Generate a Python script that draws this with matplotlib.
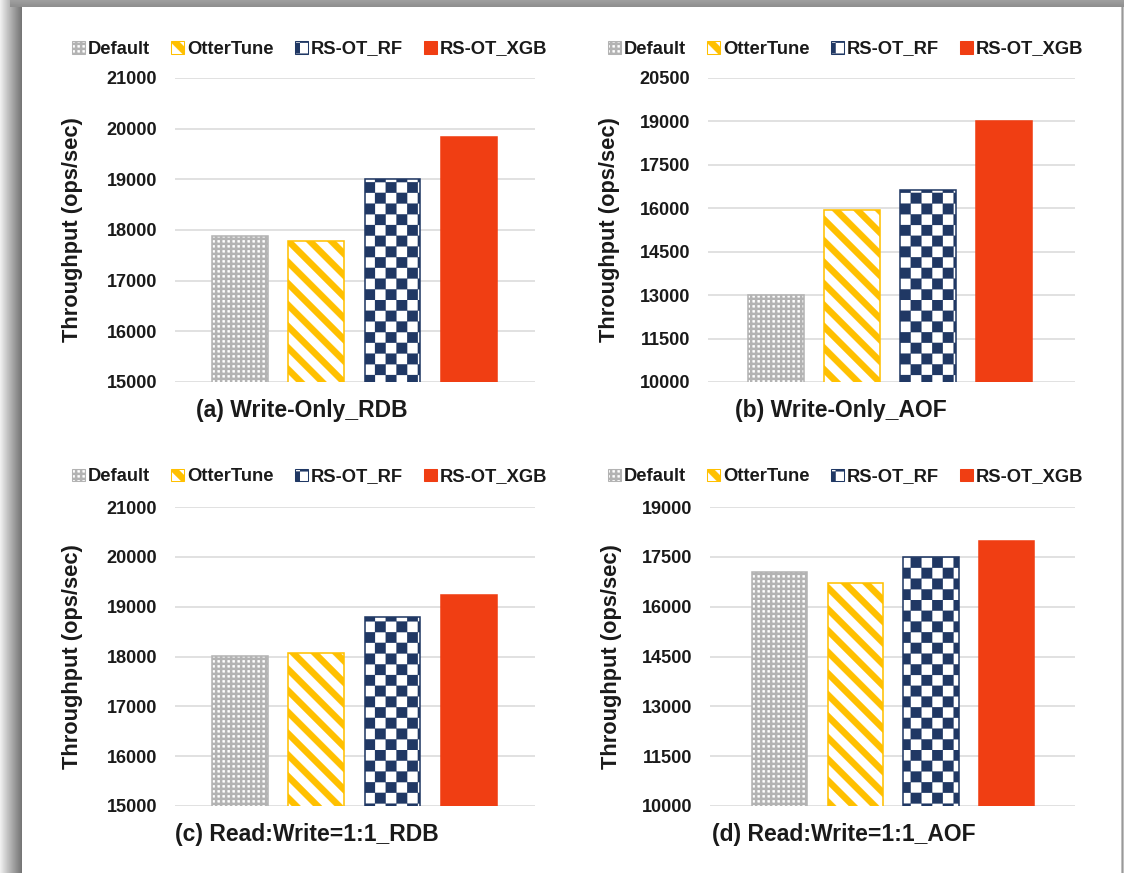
import warnings
warnings.filterwarnings("ignore")
import numpy as np
import matplotlib
matplotlib.use("Agg")
import matplotlib.pyplot as plt
import matplotlib.hatch as mhatch
from matplotlib.path import Path
from matplotlib.patches import Patch

# ---------------- data ----------------
series = ["Default", "OtterTune", "RS-OT_RF", "RS-OT_XGB"]
panel_titles = ["(a) Write-Only_RDB", "(b) Write-Only_AOF",
                "(c) Read:Write=1:1_RDB", "(d) Read:Write=1:1_AOF"]
vals_a = [17880, 17780, 19000, 19840]
vals_b = [13000, 15940, 16630, 19010]
vals_c = [18020, 18075, 18800, 19240]
vals_d = [17030, 16700, 17480, 17970]
yticks_a = [15000, 16000, 17000, 18000, 19000, 20000, 21000]
yticks_b = [10000, 11500, 13000, 14500, 16000, 17500, 19000, 20500]
yticks_c = [15000, 16000, 17000, 18000, 19000, 20000, 21000]
yticks_d = [10000, 11500, 13000, 14500, 16000, 17500, 19000]
ylabel = "Throughput (ops/sec)"

# ---------------- custom hatch textures ----------------
class _FilledPolys(mhatch.HatchPatternBase):
    char = None

    def __init__(self, hatch, density):
        self.polys = self.make_polys() if (hatch and self.char in hatch) else []
        self.num_vertices = sum(len(p) + 1 for p in self.polys)

    def make_polys(self):
        return []

    def set_vertices_and_codes(self, vertices, codes):
        i = 0
        for p in self.polys:
            n = len(p)
            vertices[i:i + n] = p
            vertices[i + n] = p[0]
            codes[i] = Path.MOVETO
            codes[i + 1:i + n] = Path.LINETO
            codes[i + n] = Path.CLOSEPOLY
            i += n + 1


class StripeHatch(_FilledPolys):
    char = "k"

    def make_polys(self):
        n = 7
        w = 0.42 / n
        out = []
        for k in range(-1, 2 * n + 1):
            c = k / n
            out.append([(-1, c + 1), (2, c - 2), (2, c + w - 2), (-1, c + w + 1)])
        return out


class CheckerHatch(_FilledPolys):
    char = "q"

    def make_polys(self):
        m = 14
        out = []
        for i in range(m):
            for j in range(m):
                if (i + j) % 2 == 0:
                    out.append([(i / m, j / m), ((i + 1) / m, j / m),
                                ((i + 1) / m, (j + 1) / m), (i / m, (j + 1) / m)])
        return out


class GridHatch(_FilledPolys):
    char = "g"

    def make_polys(self):
        n = 30
        t = 0.45 / n
        out = []
        for k in range(n):
            a = k / n
            out.append([(0, a), (1, a), (1, a + t), (0, a + t)])
            out.append([(a, 0), (a + t, 0), (a + t, 1), (a, 1)])
        return out


mhatch._hatch_types.extend([StripeHatch, CheckerHatch, GridHatch])

plt.rcParams["hatch.linewidth"] = 0.1
plt.rcParams["font.family"] = ["Liberation Sans", "DejaVu Sans"]
plt.rcParams["font.weight"] = "bold"

styles = [
    dict(facecolor="white", edgecolor="#b3b3b3", hatch="g"),
    dict(facecolor="white", edgecolor="#FFC000", hatch="k"),
    dict(facecolor="white", edgecolor="#203864", hatch="q"),
    dict(facecolor="#F03E13", edgecolor="#F03E13", hatch=None),
]

W, H = 1124, 873
DPI = 150
fig = plt.figure(figsize=(W / DPI, H / DPI), dpi=DPI)
fig.patch.set_facecolor("white")

# page shadow decoration
axl = fig.add_axes([0, 0, 22 / W, 1])
grad = np.linspace(0.95, 0.55, 22) ** 1.3
axl.imshow(grad[None, :], cmap="gray", vmin=0, vmax=1, aspect="auto")
axl.axis("off")
axt = fig.add_axes([10 / W, 1 - 7 / H, 1 - 10 / W, 7 / H])
gradt = np.linspace(0.62, 0.56, 7)
axt.imshow(gradt[:, None], cmap="gray", vmin=0, vmax=1, aspect="auto")
axt.axis("off")
axr = fig.add_axes([1121 / W, 0, 3 / W, 1 - 7 / H])
axr.imshow(np.array([[0.75, 0.6, 0.75]]), cmap="gray", vmin=0, vmax=1, aspect="auto")
axr.axis("off")


def px_rect(l, r, t, b):
    return [l / W, 1 - b / H, (r - l) / W, (b - t) / H]


panels = [
    dict(vals=vals_a, ticks=yticks_a, rect=px_rect(175, 535, 78, 382), xlim=(-0.85, 3.865),
         title=panel_titles[0], tpos=(196, 411), leg=(72, 49), ylx=83),
    dict(vals=vals_b, ticks=yticks_b, rect=px_rect(708, 1075, 78, 382), xlim=(-0.895, 3.93),
         title=panel_titles[1], tpos=(735, 411), leg=(608, 49), ylx=620),
    dict(vals=vals_c, ticks=yticks_c, rect=px_rect(175, 535, 507, 806), xlim=(-0.85, 3.865),
         title=panel_titles[2], tpos=(175, 835), leg=(72, 477), ylx=83),
    dict(vals=vals_d, ticks=yticks_d, rect=px_rect(710, 1075, 507, 806), xlim=(-0.92, 3.90),
         title=panel_titles[3], tpos=(712, 835), leg=(608, 477), ylx=622),
]

x = np.arange(len(series))
for p in panels:
    ax = fig.add_axes(p["rect"])
    for i in range(len(series)):
        st = styles[i]
        ax.bar(x[i], p["vals"][i], width=0.73, facecolor=st["facecolor"],
               edgecolor=st["edgecolor"], hatch=st["hatch"], linewidth=0.75, zorder=3)
    ax.set_ylim(p["ticks"][0], p["ticks"][-1])
    ax.set_yticks(p["ticks"])
    ax.set_yticklabels([str(t) for t in p["ticks"]], fontsize=8.7, fontweight="bold",
                       color="#1a1a1a")
    ax.set_xlim(*p["xlim"])
    ax.set_xticks([])
    ax.tick_params(axis="y", length=0, pad=8.6)
    for s in ax.spines.values():
        s.set_visible(False)
    ax.set_axisbelow(True)
    ax.yaxis.grid(True, color="#d9d9d9", linewidth=0.75)
    ax.set_ylabel(ylabel, fontsize=10.5, fontweight="bold", color="#1a1a1a")
    l, b, w, h = p["rect"]
    ax.yaxis.set_label_coords((p["ylx"] / W - l) / w, 0.5)
    fig.text(p["tpos"][0] / W, 1 - p["tpos"][1] / H, p["title"], fontsize=11,
             fontweight="bold", color="#1a1a1a", ha="left", va="center")
    handles = [Patch(facecolor=st["facecolor"], edgecolor=st["edgecolor"],
                     hatch=st["hatch"], linewidth=0.5) for st in styles]
    fig.legend(handles, series, loc="center left",
               bbox_to_anchor=(p["leg"][0] / W, 1 - p["leg"][1] / H),
               bbox_transform=fig.transFigure, ncol=4, frameon=False,
               prop=dict(size=8.8, weight="bold"), handlelength=0.7,
               handleheight=0.7, handletextpad=0.17, columnspacing=1.15,
               borderpad=0, borderaxespad=0, labelcolor="#1a1a1a")

fig.savefig("out.png", dpi=DPI, facecolor="white")
